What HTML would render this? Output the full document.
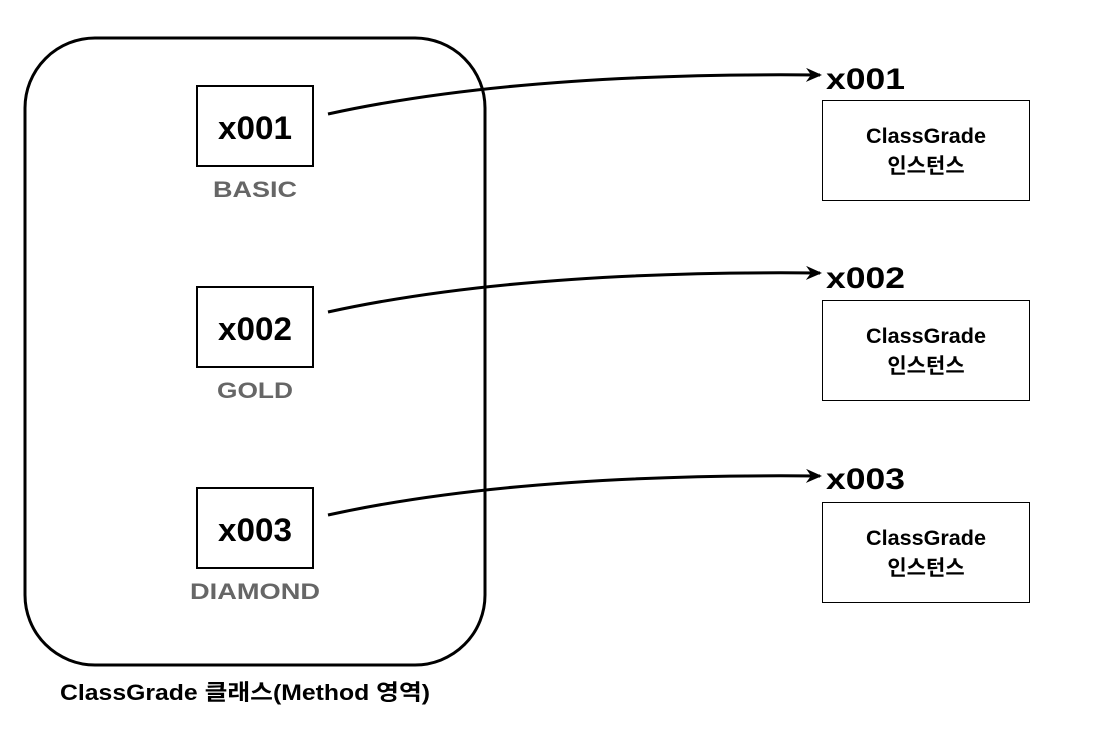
<!DOCTYPE html>
<html><head><meta charset="utf-8"><style>
body{margin:0;background:#fff;}
svg text{font-family:"Liberation Sans","Noto Sans CJK KR",sans-serif;font-weight:bold;}
</style></head><body>
<svg width="1105" height="730" viewBox="0 0 1105 730" xmlns="http://www.w3.org/2000/svg">
<defs><marker id="a" markerWidth="16" markerHeight="14" refX="14" refY="7" orient="auto" markerUnits="userSpaceOnUse"><path d="M0,0 L16,7 L0,14 L5,7 Z" fill="#000"/></marker></defs>
<rect x="25" y="38" width="460" height="627" rx="70" fill="none" stroke="#000" stroke-width="3"/>
<g fill="#fff" stroke="#000" stroke-width="2">
<rect x="197" y="86" width="116" height="80"/>
<rect x="197" y="287" width="116" height="80"/>
<rect x="197" y="488" width="116" height="80"/>
</g>
<g font-size="32" text-anchor="middle" textLength="74">
<text x="255" y="139" textLength="74" lengthAdjust="spacingAndGlyphs">x001</text>
<text x="255" y="340" textLength="74" lengthAdjust="spacingAndGlyphs">x002</text>
<text x="255" y="541" textLength="74" lengthAdjust="spacingAndGlyphs">x003</text>
</g>
<g font-size="22" fill="#666" text-anchor="middle">
<text x="255" y="197" textLength="84" lengthAdjust="spacingAndGlyphs">BASIC</text>
<text x="255" y="398" textLength="76" lengthAdjust="spacingAndGlyphs">GOLD</text>
<text x="255" y="599" textLength="130" lengthAdjust="spacingAndGlyphs">DIAMOND</text>
</g>
<g fill="none" stroke="#000" stroke-width="3" marker-end="url(#a)">
<path d="M328,114 Q520,72 820,75"/>
<path d="M328,312 Q520,270 820,273"/>
<path d="M328,515 Q520,473 820,476"/>
</g>
<g font-size="30">
<text x="826" y="89" textLength="79" lengthAdjust="spacingAndGlyphs">x001</text>
<text x="826" y="288" textLength="79" lengthAdjust="spacingAndGlyphs">x002</text>
<text x="826" y="489" textLength="79" lengthAdjust="spacingAndGlyphs">x003</text>
</g>
<g fill="#fff" stroke="#000" stroke-width="1">
<rect x="822.5" y="100.5" width="207" height="100"/>
<rect x="822.5" y="300.5" width="207" height="100"/>
<rect x="822.5" y="502.5" width="207" height="100"/>
</g>
<g font-size="21" text-anchor="middle">
<text x="926" y="143" textLength="120" lengthAdjust="spacingAndGlyphs">ClassGrade</text><text x="926" y="173">인스턴스</text>
<text x="926" y="343" textLength="120" lengthAdjust="spacingAndGlyphs">ClassGrade</text><text x="926" y="373">인스턴스</text>
<text x="926" y="545" textLength="120" lengthAdjust="spacingAndGlyphs">ClassGrade</text><text x="926" y="575">인스턴스</text>
</g>
<text x="245" y="700" font-size="22" text-anchor="middle" textLength="370" lengthAdjust="spacingAndGlyphs">ClassGrade 클래스(Method 영역)</text>
</svg>
</body></html>
